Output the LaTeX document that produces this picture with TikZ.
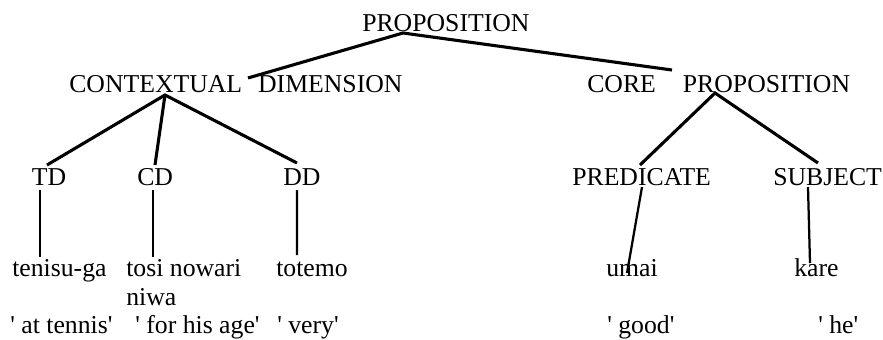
\documentclass[tikz,border=0pt]{standalone}
\usepackage{fontspec}
\setmainfont{Liberation Serif}
\tikzset{
    word/.style ={
        inner sep=0pt,
        anchor=base west,
        align=left
    },
    branch/.style ={
        line width=2.2pt
    },
    stem/.style ={
        line width=1.6pt
    }
}

\begin{document}
\begin{tikzpicture}[font=\fontsize{18.3}{20.6}\selectfont]
        \useasboundingbox (0,0) rectangle (22.075,8.475);

        \node[word] (PROP) at(9.05,7.7) {PROPOSITION};
        \node[word] (CDIM) at(1.725,6.175) {CONTEXTUAL\hspace{0.62em}DIMENSION};
        \node[word] (CPROP) at(14.675,6.175) {CORE\hspace{1.05em}PROPOSITION};
        \node[word] (TD) at(0.79,3.85) {TD};
        \node[word] (CD) at(3.425,3.85) {CD};
        \node[word] (DD) at(7.075,3.85) {DD};
        \node[word] (PRED) at(14.3,3.85) {PREDICATE};
        \node[word] (SUBJ) at(19.325,3.85) {SUBJECT};
        \node[word] (TENISU) at(0.3,1.575) {tenisu-ga};
        \node[word] (TOSI) at(3.15,0.85) {tosi nowari\\niwa};
        \node[word] (TOTEMO) at(6.9,1.575) {totemo};
        \node[word] (UMAI) at(15.15,1.575) {umai};
        \node[word] (KARE) at(19.85,1.575) {kare};
        \node[word] (GTENNIS) at(0.25,0.15) {\textquotesingle\ at tennis\textquotesingle};
        \node[word] (GAGE) at(3.375,0.15) {\textquotesingle\ for his age\textquotesingle};
        \node[word] (GVERY) at(6.925,0.15) {\textquotesingle\ very\textquotesingle};
        \node[word] (GGOOD) at(15.175,0.15) {\textquotesingle\ good\textquotesingle};
        \node[word] (GHE) at(20.45,0.15) {\textquotesingle\ he\textquotesingle};

        \draw[branch] ([shift={(4.475,0.35)}]CDIM.base west)--([shift={(1.025,-0.05)}]PROP.base west)--([shift={(2.125,0.55)}]CPROP.base west);
        \draw[branch] ([shift={(0.385,0.5)}]TD.base west)--([shift={(2.4,-0.075)}]CDIM.base west)--([shift={(0.35,0.55)}]DD.base west);
        \draw[branch] ([shift={(2.4,-0.075)}]CDIM.base west)--([shift={(0.45,0.5)}]CD.base west);
        \draw[branch] ([shift={(1.7,0.5)}]PRED.base west)--([shift={(3.2,-0.025)}]CPROP.base west)--([shift={(1.125,0.55)}]SUBJ.base west);
        \draw[stem] ([shift={(0.21,-0.125)}]TD.base west)--([shift={(0.7,0.475)}]TENISU.base west);
        \draw[stem] ([shift={(0.4,-0.125)}]CD.base west)--([shift={(0.675,1.2)}]TOSI.base west);
        \draw[stem] ([shift={(0.35,-0.125)}]DD.base west)--([shift={(0.525,0.525)}]TOTEMO.base west);
        \draw[stem] ([shift={(1.75,-0.05)}]PRED.base west)--([shift={(0.525,0.075)}]UMAI.base west);
        \draw[stem] ([shift={(0.875,-0.05)}]SUBJ.base west)--([shift={(0.4,0.325)}]KARE.base west);
    \end{tikzpicture}
\end{document}
